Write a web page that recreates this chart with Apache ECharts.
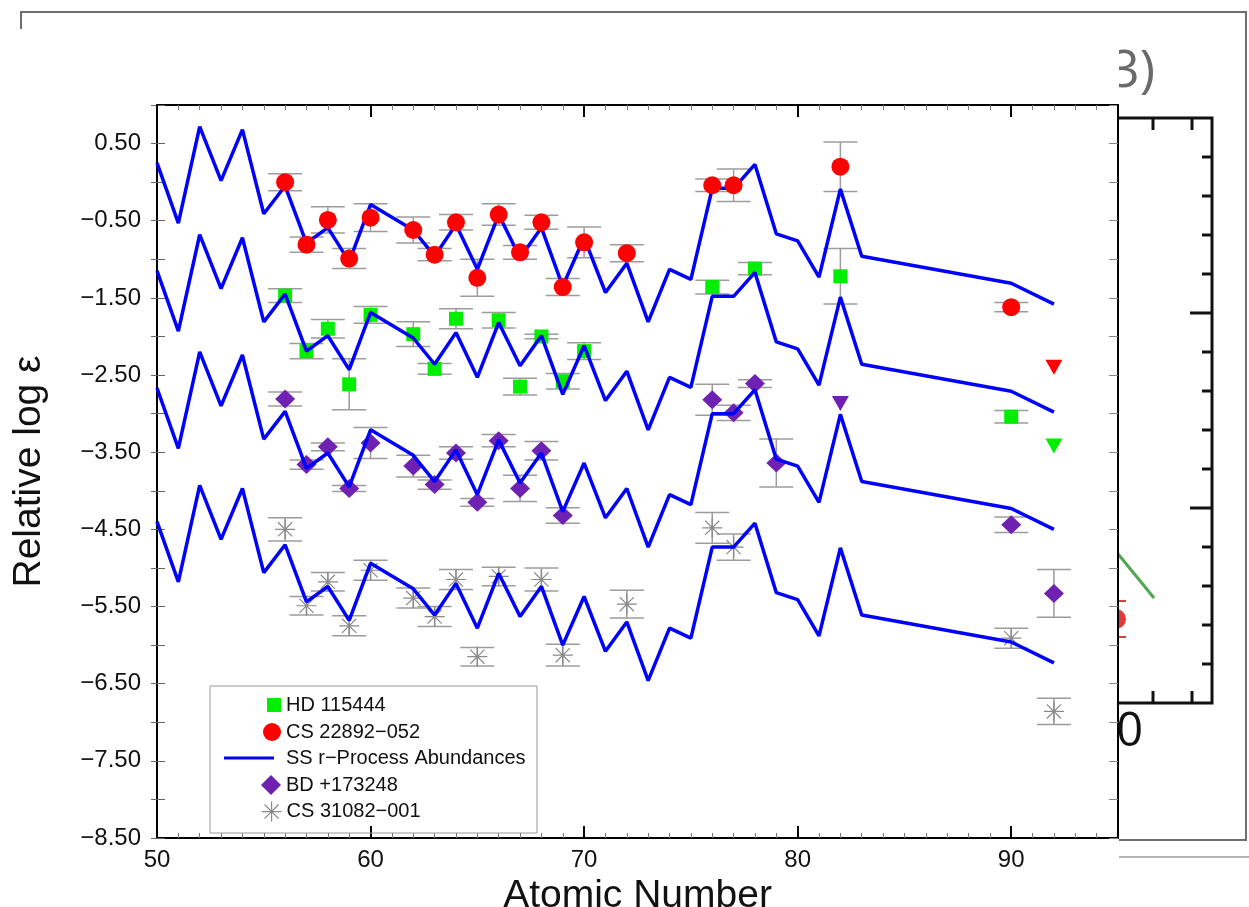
<!DOCTYPE html>
<html>
<head>
<meta charset="utf-8">
<script src="https://cdn.jsdelivr.net/npm/echarts@6/dist/echarts.min.js"></script>
<style>
html,body{margin:0;padding:0;background:#fff;}
#chart{width:1249px;height:907px;}
</style>
</head>
<body>
<div id="chart"></div>
<script>
// ---------- data ----------
const ssZ = [50,51,52,53,54,55,56,57,58,59,60,62,63,64,65,66,67,68,69,70,71,72,73,74,75,76,77,78,79,80,81,82,83,90,92];
const ssCS22892 = [0.25,-0.53,0.72,0.02,0.68,-0.41,-0.05,-0.79,-0.59,-1.03,-0.29,-0.62,-0.96,-0.55,-1.13,-0.42,-0.98,-0.59,-1.35,-0.72,-1.43,-1.05,-1.81,-1.13,-1.26,-0.08,-0.08,0.23,-0.67,-0.76,-1.23,-0.09,-0.96,-1.31,-1.58];
const ssHD115444 = [-1.15,-1.93,-0.68,-1.38,-0.72,-1.81,-1.45,-2.19,-1.99,-2.43,-1.69,-2.02,-2.36,-1.95,-2.53,-1.82,-2.38,-1.99,-2.75,-2.12,-2.83,-2.45,-3.21,-2.53,-2.66,-1.48,-1.48,-1.17,-2.07,-2.16,-2.63,-1.49,-2.36,-2.71,-2.98];
const ssBD173248 = [-2.67,-3.45,-2.20,-2.90,-2.24,-3.33,-2.97,-3.71,-3.51,-3.95,-3.21,-3.54,-3.88,-3.47,-4.05,-3.34,-3.90,-3.51,-4.27,-3.64,-4.35,-3.97,-4.73,-4.05,-4.18,-3.00,-3.00,-2.69,-3.59,-3.68,-4.15,-3.01,-3.88,-4.23,-4.50];
const ssCS31082 = [-4.40,-5.18,-3.93,-4.63,-3.97,-5.06,-4.70,-5.44,-5.24,-5.68,-4.94,-5.27,-5.61,-5.20,-5.78,-5.07,-5.63,-5.24,-6.00,-5.37,-6.08,-5.70,-6.46,-5.78,-5.91,-4.73,-4.73,-4.42,-5.32,-5.41,-5.88,-4.74,-5.61,-5.96,-6.23];

// [Z, log eps, error]
const hd115444 = [[56,-1.47,0.09],[57,-2.19,0.10],[58,-1.90,0.12],[59,-2.62,0.33],[60,-1.72,0.11],[62,-1.97,0.16],[63,-2.42,0.07],[64,-1.77,0.13],[66,-1.79,0.10],[67,-2.65,0.11],[68,-2.00,0.03],[69,-2.58,0.10],[70,-2.19,0.11],[76,-1.36,0.09],[78,-1.12,0.08],[82,-1.22,0.36],[90,-3.04,0.08]];
const hd115444Limits = [[92,-3.42]];
const cs22892 = [[56,0.00,0.11],[57,-0.81,0.10],[58,-0.49,0.17],[59,-0.99,0.13],[60,-0.46,0.18],[62,-0.62,0.17],[63,-0.94,0.08],[64,-0.52,0.10],[65,-1.24,0.24],[66,-0.42,0.14],[67,-0.91,0.09],[68,-0.52,0.09],[69,-1.36,0.11],[70,-0.78,0.20],[72,-0.92,0.11],[76,-0.04,0.08],[77,-0.04,0.21],[82,0.20,0.32],[90,-1.62,0.06]];
const cs22892Limits = [[92,-2.40]];
const bd173248 = [[56,-2.81,0.09],[57,-3.66,0.06],[58,-3.43,0.05],[59,-3.97,0.04],[60,-3.38,0.20],[62,-3.68,0.14],[63,-3.92,0.06],[64,-3.51,0.08],[65,-4.15,0.05],[66,-3.35,0.08],[67,-3.97,0.17],[68,-3.48,0.12],[69,-4.32,0.10],[76,-2.82,0.20],[77,-2.99,0.10],[78,-2.61,0.05],[79,-3.64,0.31],[90,-4.44,0.10],[92,-5.33,0.31]];
const bd173248Limits = [[82,-2.87]];
const cs31082 = [[56,-4.50,0.15],[57,-5.49,0.12],[58,-5.18,0.12],[59,-5.75,0.13],[60,-5.03,0.13],[62,-5.39,0.13],[63,-5.63,0.13],[64,-5.15,0.13],[65,-6.15,0.12],[66,-5.11,0.12],[68,-5.15,0.15],[69,-6.13,0.14],[72,-5.47,0.18],[76,-4.48,0.20],[77,-4.73,0.17],[90,-5.91,0.13],[92,-6.86,0.17]];

const names = {
  hd: 'HD 115444',
  cs: 'CS 22892\u2212052',
  ss: 'SS r\u2212Process Abundances',
  bd: 'BD +173248',
  cs31: 'CS 31082\u2212001'
};

// ---------- styling ----------
const FONT = 'Liberation Sans, Arial, Helvetica, sans-serif';
const BLUE = '#0000ff', RED = '#ff0000', GREEN = '#00ee00', PURPLE = '#6f22b2', GRAY = '#8a8a8a', ERR = '#9c9c9c';
const ASTERISK = 'path://M0,-10L0,10M-10,0L10,0M-7.07,-7.07L7.07,7.07M-7.07,7.07L7.07,-7.07';

function zip(xs, ys) { return xs.map((x, i) => [x, ys[i]]); }

function errRender(params, api) {
  const x = api.value(0), y = api.value(1), e = api.value(2);
  const t = api.coord([x, y + e]);
  const b = api.coord([x, y - e]);
  const hw = 17;
  const st = { stroke: ERR, lineWidth: 1.5 };
  return { type: 'group', children: [
    { type: 'line', shape: { x1: t[0], y1: t[1], x2: b[0], y2: b[1] }, style: st },
    { type: 'line', shape: { x1: t[0] - hw, y1: t[1], x2: t[0] + hw, y2: t[1] }, style: st },
    { type: 'line', shape: { x1: b[0] - hw, y1: b[1], x2: b[0] + hw, y2: b[1] }, style: st }
  ]};
}
function errSeries(data) {
  return { type: 'custom', name: 'err', renderItem: errRender, data: data,
    encode: { x: 0, y: 1 }, z: 1, silent: true, clip: true };
}
function ssLine(vals) {
  return { type: 'line', name: names.ss, data: zip(ssZ, vals), symbol: 'none', showSymbol: false,
    lineStyle: { color: BLUE, width: 3.5 }, itemStyle: { color: BLUE }, z: 3, silent: true };
}

const xBase = {
  type: 'value', min: 50, max: 95, interval: 10, splitLine: { show: false },
  axisLine: { show: true, onZero: false, lineStyle: { color: '#000', width: 2 } },
  axisTick: { show: true, inside: true, length: 12, lineStyle: { color: '#000', width: 2 } },
  minorTick: { show: true, splitNumber: 10, length: 5, lineStyle: { color: '#777', width: 1 } }
};
const yBase = {
  type: 'value', min: -8.5, max: 1.0, interval: 0.5, splitLine: { show: false },
  axisLine: { show: true, onZero: false, lineStyle: { color: '#000', width: 2 } }
};

function legendItem(name, top, left, w, h, icon, itemStyle, extraText) {
  return {
    show: true, orient: 'horizontal', left: left, top: top, padding: 0,
    itemWidth: w, itemHeight: h, selectedMode: false,
    data: [{ name: name, icon: icon }],
    itemStyle: itemStyle,
    textStyle: Object.assign({ fontFamily: FONT, fontSize: 20, color: '#111' }, extraText || {})
  };
}

const option = {
  backgroundColor: '#fff',
  animation: false,
  grid: { left: 157, top: 105, width: 961, height: 733, containLabel: false, outerBoundsMode: 'none' },
  xAxis: [
    Object.assign({}, xBase, {
      position: 'bottom',
      axisLabel: { show: true, fontFamily: FONT, fontSize: 24, color: '#111', margin: 10, showMaxLabel: false },
      name: 'Atomic Number', nameLocation: 'middle', nameGap: 33,
      nameTextStyle: { fontFamily: FONT, fontSize: 39, color: '#111' }
    }),
    Object.assign({}, xBase, { position: 'top', axisLabel: { show: false } })
  ],
  yAxis: [
    Object.assign({}, yBase, {
      position: 'left',
      axisTick: { show: true, inside: false, length: 6, lineStyle: { color: '#666', width: 1 } },
      axisLabel: {
        show: true, fontFamily: FONT, fontSize: 24, color: '#111', margin: 16,
        formatter: function (v) {
          const r = Math.round(v * 100) / 100;
          if (Math.abs(Math.abs(r % 1) - 0.5) > 1e-6) return '';
          return r.toFixed(2).replace('-', '\u2212');
        }
      },
      name: 'Relative log \u03b5', nameLocation: 'middle', nameGap: 108,
      nameTextStyle: { fontFamily: FONT, fontSize: 39, color: '#111' }
    }),
    Object.assign({}, yBase, {
      position: 'left', axisLine: { show: false },
      axisTick: { show: true, inside: true, length: 8, lineStyle: { color: '#666', width: 1 } },
      axisLabel: { show: false }
    }),
    Object.assign({}, yBase, {
      position: 'right',
      axisTick: { show: true, inside: true, length: 9, lineStyle: { color: '#888', width: 1 } },
      axisLabel: { show: false }
    })
  ],
  legend: [
    legendItem(names.hd, 695, 267, 14, 14, 'rect', { color: GREEN }),
    legendItem(names.cs, 722, 263, 18, 18, 'circle', { color: RED }),
    legendItem(names.ss, 748, 224, 50, 3, 'rect', { color: BLUE }, { padding: [0, 0, 0, 7] }),
    legendItem(names.bd, 775, 261, 20, 20, 'diamond', { color: PURPLE }),
    legendItem(names.cs31, 801, 261, 20, 20, ASTERISK, { color: 'transparent', borderColor: GRAY, borderWidth: 1.2 })
  ],
  graphic: [
    // slide frame behind the chart
    { type: 'polyline', z: -10, shape: { points: [[21, 29], [21, 12], [1246, 12], [1246, 840], [1119, 840]] },
      style: { stroke: '#6e6e6e', lineWidth: 2, fill: null } },
    { type: 'line', z: -10, shape: { x1: 1119, y1: 857, x2: 1249, y2: 857 }, style: { stroke: '#b4b4b4', lineWidth: 2 } },
    // neighbouring panel fragment
    { type: 'rect', z: -10, shape: { x: 1100, y: 118, width: 112, height: 585 }, style: { stroke: '#111', lineWidth: 3, fill: null } },
    { type: 'group', z: -10, children: [
      { type: 'line', shape: { x1: 1153, y1: 118, x2: 1153, y2: 130 }, style: { stroke: '#111', lineWidth: 3 } },
      { type: 'line', shape: { x1: 1192, y1: 118, x2: 1192, y2: 130 }, style: { stroke: '#111', lineWidth: 3 } },
      { type: 'line', shape: { x1: 1153, y1: 703, x2: 1153, y2: 691 }, style: { stroke: '#111', lineWidth: 3 } },
      { type: 'line', shape: { x1: 1192, y1: 703, x2: 1192, y2: 691 }, style: { stroke: '#111', lineWidth: 3 } }
    ].concat([157, 196, 235, 274, 352, 391, 430, 469, 547, 586, 625, 664].map(y => (
      { type: 'line', shape: { x1: 1212, y1: y, x2: 1202, y2: y }, style: { stroke: '#111', lineWidth: 3 } }
    ))).concat([313, 508].map(y => (
      { type: 'line', shape: { x1: 1212, y1: y, x2: 1190, y2: y }, style: { stroke: '#111', lineWidth: 3 } }
    ))) },
    { type: 'text', z: -10, x: 1155, y: 72, style: { text: '3)', fontFamily: 'Open Sans, sans-serif', fontSize: 52, fill: '#6a6a6a', align: 'right', verticalAlign: 'middle' } },
    { type: 'text', z: -10, x: 1143, y: 733, style: { text: '0', fontFamily: 'Open Sans, sans-serif', fontSize: 47, fill: '#111', align: 'right', verticalAlign: 'middle' } },
    { type: 'line', z: -10, shape: { x1: 1110, y1: 544, x2: 1154, y2: 598 }, style: { stroke: '#4fa84f', lineWidth: 3 } },
    { type: 'circle', z: -10, shape: { cx: 1116, cy: 619, r: 10 }, style: { fill: '#e03a3a' } },
    { type: 'polyline', z: -10, shape: { points: [[1126, 601], [1117, 601], [1117, 637], [1126, 637]] }, style: { stroke: '#e03a3a', lineWidth: 2, fill: null } },
    // white page of the main chart covering the fragments on its left
    { type: 'rect', z: -5, shape: { x: 22, y: 29, width: 1097, height: 878 }, style: { fill: '#fff' } },
    // legend box
    { type: 'rect', z: 1, shape: { x: 210, y: 686, width: 327, height: 147 }, style: { stroke: '#9a9a9a', lineWidth: 1, fill: 'transparent' } }
  ],
  series: [
    errSeries(hd115444), errSeries(cs22892), errSeries(bd173248), errSeries(cs31082),
    { type: 'scatter', name: names.hd, data: hd115444, symbol: 'rect', symbolSize: 14, itemStyle: { color: GREEN, opacity: 1 }, z: 2 },
    { type: 'scatter', name: names.hd, data: hd115444Limits, symbol: 'triangle', symbolRotate: 180, symbolSize: [17, 15], itemStyle: { color: GREEN, opacity: 1 }, z: 2 },
    { type: 'scatter', name: names.bd, data: bd173248, symbol: 'diamond', symbolSize: [20, 19], itemStyle: { color: PURPLE, opacity: 1 }, z: 2 },
    { type: 'scatter', name: names.bd, data: bd173248Limits, symbol: 'triangle', symbolRotate: 180, symbolSize: [17, 15], itemStyle: { color: PURPLE, opacity: 1 }, z: 2 },
    { type: 'scatter', name: names.cs31, data: cs31082, symbol: ASTERISK, symbolSize: 20, itemStyle: { color: 'transparent', borderColor: GRAY, borderWidth: 1.2, opacity: 1 }, z: 2 },
    ssLine(ssCS22892), ssLine(ssHD115444), ssLine(ssBD173248), ssLine(ssCS31082),
    { type: 'scatter', name: names.cs, data: cs22892, symbol: 'circle', symbolSize: 18, itemStyle: { color: RED, opacity: 1 }, z: 4 },
    { type: 'scatter', name: names.cs, data: cs22892Limits, symbol: 'triangle', symbolRotate: 180, symbolSize: [17, 15], itemStyle: { color: RED, opacity: 1 }, z: 4 }
  ]
};

const chart = echarts.init(document.getElementById('chart'), null, { renderer: 'canvas' });
chart.setOption(option);
</script>
</body>
</html>
